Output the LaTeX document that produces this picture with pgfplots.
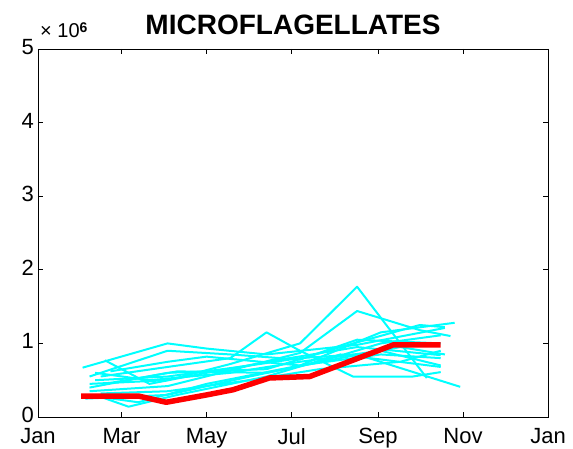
\documentclass[border=0pt]{standalone}
\usepackage{fontspec}
\setmainfont{Liberation Sans}
\usepackage{pgfplots}
\pgfplotsset{compat=1.18}
\definecolor{cy}{RGB}{0,255,255}
\begin{document}
\begin{tikzpicture}[x=1pt,y=1pt]
\useasboundingbox (-38,-32) rectangle (535,417);
\begin{axis}[
  at={(0,0)}, anchor=south west,
  scale only axis, width=510pt, height=368pt,
  xmin=0, xmax=366, ymin=0, ymax=5,
  xtick={0,60,121,182,244,305,366},
  xticklabels={Jan,Mar,May,Jul,Sep,Nov,Jan},
  ytick={0,1,2,3,4,5},
  tick align=inside, major tick length=5pt,
  tick style={black, line width=0.8pt},
  axis line style={line width=0.8pt},
  ticklabel style={font=\fontsize{22}{24}\selectfont, inner sep=1pt},
  xticklabel style={yshift=-10pt},
  yticklabel style={yshift=2pt, xshift=-3pt},
  /pgf/number format/assume math mode=true,
  title={MICROFLAGELLATES},
  title style={font=\bfseries\fontsize{28}{30}\selectfont, at={(0.5,1)}, anchor=south, yshift=5pt},
  clip mode=individual,
  every axis plot/.append style={line join=round},
]
\addplot[cy, line width=2pt] coordinates {(32,0.67) (93,1.0) (121,0.93) (164,0.85) (229,0.98) (292,1.21)};
\addplot[cy, line width=2pt] coordinates {(37,0.45) (93,0.5) (138,0.72) (188,1.0) (229,1.77) (279,0.53)};
\addplot[cy, line width=2pt] coordinates {(45,0.55) (93,0.68) (138,0.8) (164,1.15) (188,0.9) (226,0.55) (269,0.55) (289,0.61)};
\addplot[cy, line width=2pt] coordinates {(37,0.35) (93,0.42) (188,0.87) (229,1.44) (274,1.18) (296,1.1)};
\addplot[cy, line width=2pt] coordinates {(41,0.5) (93,0.55) (152,0.7) (188,0.8) (229,0.85) (303,0.41)};
\addplot[cy, line width=2pt] coordinates {(34,0.25) (93,0.3) (152,0.55) (202,0.75) (246,1.0) (289,1.11)};
\addplot[cy, line width=2pt] coordinates {(48,0.77) (80,0.45) (121,0.6) (174,0.78) (229,0.95) (289,0.84)};
\addplot[cy, line width=2pt] coordinates {(34,0.3) (72,0.2) (121,0.45) (188,0.7) (246,0.85) (289,0.8)};
\addplot[cy, line width=2pt] coordinates {(41,0.3) (65,0.14) (100,0.3) (164,0.55) (217,0.85) (289,0.68)};
\addplot[cy, line width=2pt] coordinates {(52,0.62) (93,0.75) (121,0.82) (188,0.7) (246,1.15) (299,1.28)};
\addplot[cy, line width=2pt] coordinates {(37,0.4) (93,0.6) (164,0.65) (217,0.95) (274,1.25) (292,1.22)};
\addplot[cy, line width=2pt] coordinates {(41,0.6) (80,0.5) (138,0.6) (188,0.75) (246,0.9) (289,0.7)};
\addplot[cy, line width=2pt] coordinates {(45,0.32) (93,0.35) (152,0.5) (202,0.65) (260,0.75) (289,0.9)};
\addplot[cy, line width=2pt] coordinates {(37,0.55) (93,0.9) (138,0.85) (188,0.78) (229,1.05) (289,1.0)};
\addplot[cy, line width=2pt] coordinates {(48,0.45) (100,0.62) (164,0.6) (217,0.8) (260,0.95) (292,0.85)};
\addplot[red, line width=5.5pt] coordinates {(31,0.285) (72,0.285) (92,0.2) (121,0.3) (140,0.37) (166,0.53) (195,0.55) (255,0.98) (289,0.98)};
\end{axis}
\node[anchor=base west, inner sep=0pt] at (2,379) {\fontsize{20}{22}\selectfont × 10\raisebox{0.55ex}{\fontsize{14}{15}\selectfont\bfseries 6}};
\end{tikzpicture}
\end{document}
